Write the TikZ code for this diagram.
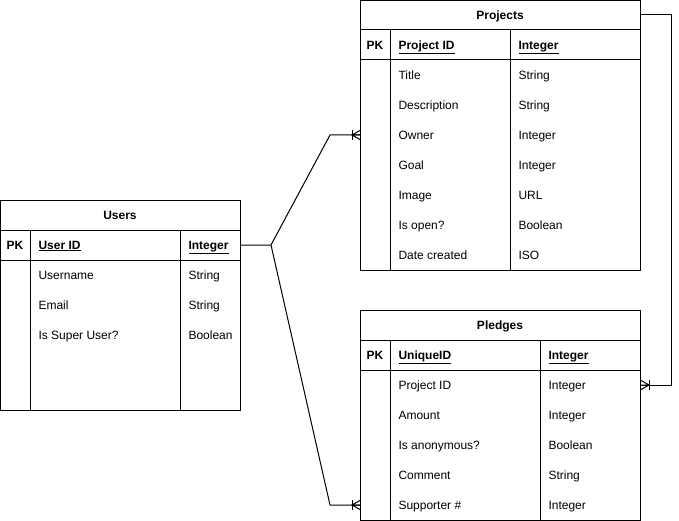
\documentclass[tikz,border=0pt]{standalone}
\usepackage{fontspec}
\setmainfont{Liberation Sans}
\begin{document}
\begin{tikzpicture}[x=1pt,y=-1pt,line width=1pt,
  font=\fontsize{12}{14}\selectfont,
  tbl/.style={draw,anchor=north west,inner sep=0pt},
  cell/.style={anchor=west,inner sep=0pt,text height=10.8pt,text depth=2.6pt},
  ttl/.style={font=\fontsize{12}{14}\selectfont\bfseries,inner sep=0pt,text height=10.8pt,text depth=2.6pt},
  pkcell/.style={cell,font=\fontsize{12}{14}\selectfont\bfseries},
  crow/.pic={\draw (-8,-5) -- (-8,5); \draw (0,-4.5) -- (-8,0) -- (0,4.5) (-8,0) -- (0,0);}]
\useasboundingbox (0,0) rectangle (679,521);

% ---- Users
\node[tbl,minimum width=240pt,minimum height=210pt] (users) at (0,200) {};
\draw (0,230) -- (240,230) (0,260) -- (240,260) (30,230) -- (30,410) (180,230) -- (180,410);
\node[ttl] (uT) at (120,215) {Users};
\node[ttl] (uPKl) at (15,245) {PK};
\node[pkcell] (uPKn) at (38,245) {\underline{User ID}};
\node[pkcell] (uPKt) at (188,245) {\underline{Integer}};
\node[cell] (u1n) at (38,275) {Username};      \node[cell] (u1t) at (188,275) {String};
\node[cell] (u2n) at (38,305) {Email};         \node[cell] (u2t) at (188,305) {String};
\node[cell] (u3n) at (38,335) {Is Super User?};\node[cell] (u3t) at (188,335) {Boolean};

% ---- Projects
\node[tbl,minimum width=280pt,minimum height=270pt] (projects) at (360,0) {};
\draw (360,30) -- (640,30) (360,60) -- (640,60) (390,30) -- (390,270) (510,30) -- (510,270);
\node[ttl] (pT) at (500,15) {Projects};
\node[ttl] (pPKl) at (375,45) {PK};
\node[pkcell] (pPKn) at (398,45) {\underline{Project ID}};
\node[pkcell] (pPKt) at (518,45) {\underline{Integer}};
\node[cell] (p1n) at (398,75) {Title};        \node[cell] (p1t) at (518,75) {String};
\node[cell] (p2n) at (398,105) {Description}; \node[cell] (p2t) at (518,105) {String};
\node[cell] (p3n) at (398,135) {Owner};       \node[cell] (p3t) at (518,135) {Integer};
\node[cell] (p4n) at (398,165) {Goal};        \node[cell] (p4t) at (518,165) {Integer};
\node[cell] (p5n) at (398,195) {Image};       \node[cell] (p5t) at (518,195) {URL};
\node[cell] (p6n) at (398,225) {Is open?};    \node[cell] (p6t) at (518,225) {Boolean};
\node[cell] (p7n) at (398,255) {Date created};\node[cell] (p7t) at (518,255) {ISO};

% ---- Pledges
\node[tbl,minimum width=280pt,minimum height=210pt] (pledges) at (360,310) {};
\draw (360,340) -- (640,340) (360,370) -- (640,370) (390,340) -- (390,520) (540,340) -- (540,520);
\node[ttl] (lT) at (500,325) {Pledges};
\node[ttl] (lPKl) at (375,355) {PK};
\node[pkcell] (lPKn) at (398,355) {\underline{UniqueID}};
\node[pkcell] (lPKt) at (548,355) {\underline{Integer}};
\node[cell] (l1n) at (398,385) {Project ID};    \node[cell] (l1t) at (548,385) {Integer};
\node[cell] (l2n) at (398,415) {Amount};        \node[cell] (l2t) at (548,415) {Integer};
\node[cell] (l3n) at (398,445) {Is anonymous?}; \node[cell] (l3t) at (548,445) {Boolean};
\node[cell] (l4n) at (398,475) {Comment};       \node[cell] (l4t) at (548,475) {String};
\node[cell] (l5n) at (398,505) {Supporter \#};  \node[cell] (l5t) at (548,505) {Integer};

% ---- connection points
\coordinate (uPK) at ([yshift=-45pt]users.north east);
\coordinate (pOwner) at ([yshift=-135pt]projects.north west);
\coordinate (pTitle) at ([yshift=-15pt]projects.north east);
\coordinate (lSupp) at ([yshift=-195pt]pledges.north west);
\coordinate (lProj) at ([yshift=-75pt]pledges.north east);

% ---- connectors
\draw (uPK) -- ++(30,0) coordinate (fork) -- ([xshift=-30pt]pOwner) -- (pOwner);
\draw (fork) -- ([xshift=-30pt]lSupp) -- (lSupp);
\draw (pTitle) -- ++(30,0) |- (lProj);
\pic at (pOwner) {crow};
\pic at (lSupp) {crow};
\pic[rotate=180] at (lProj) {crow};
\end{tikzpicture}
\end{document}
